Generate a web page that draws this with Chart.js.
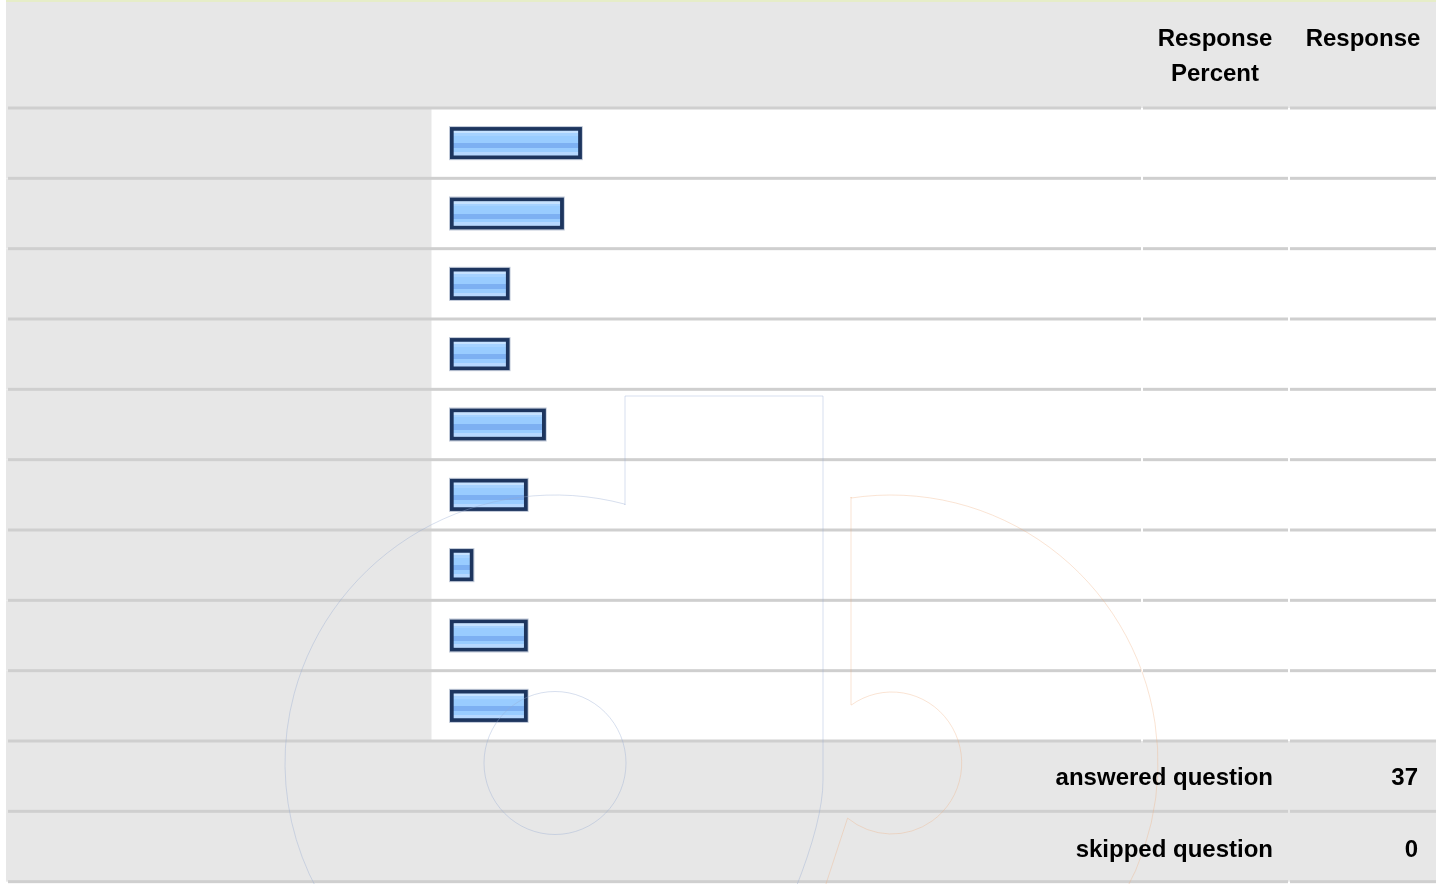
<!DOCTYPE html>
<html>
<head>
<meta charset="utf-8">
<script src="https://cdn.jsdelivr.net/npm/chart.js@4/dist/chart.umd.min.js"></script>
<style>
html,body{margin:0;padding:0;background:#fff;}
#wrap{position:relative;width:1444px;height:884px;overflow:hidden;font-family:"Liberation Sans",Arial,Helvetica,sans-serif;}
#c{position:absolute;left:0;top:0;}
.t{position:absolute;font-weight:bold;font-size:24px;line-height:35px;color:#000;white-space:nowrap;}
</style>
</head>
<body>
<div id="wrap">
<canvas id="c" width="1444" height="884"></canvas>
</div>
<script>
// ---- data ----
const categories = ['Option 1','Option 2','Option 3','Option 4','Option 5','Option 6','Option 7','Option 8','Option 9'];
const responsePercent = [18.9, 16.2, 8.1, 8.1, 13.5, 10.8, 2.7, 10.8, 10.8];
const headerLabels = ['Response Percent', 'Response'];
const summaryLabels = ['answered question', 'skipped question'];
const summaryValues = [37, 0];

// ---- text (real HTML text) ----
const wrap = document.getElementById('wrap');
function addText(html, style){
  const d = document.createElement('div');
  d.className = 't';
  d.innerHTML = html;
  Object.assign(d.style, style);
  wrap.appendChild(d);
}
addText(headerLabels[0].replace(' ', '<br>'), {left:'1142px', width:'146px', top:'20px', textAlign:'center'});
addText(headerLabels[1], {left:'1290px', width:'146px', top:'20px', textAlign:'center'});
const sumTops = [759, 831];
summaryLabels.forEach((s,i)=>{
  addText(s, {right:'171px', top: sumTops[i]+'px', textAlign:'right'});
  addText(String(summaryValues[i]), {right:'26px', top: sumTops[i]+'px', textAlign:'right'});
});

// ---- chart ----
const BASE = -0.8;
const L = 6, R = 1436, GAP1 = 1141, GAP2 = 1288, LABEL_R = 431.5;
const GRAY = '#e7e7e7', LINE = '#cfcfcf';

function hline(ctx, y, gaps){
  ctx.fillStyle = LINE;
  let x = 8;
  const segs = [];
  gaps.forEach(g=>{ segs.push([x, g]); x = g + 2; });
  segs.push([x, R]);
  segs.forEach(s=>ctx.fillRect(s[0], y - 1.5, s[1]-s[0], 3));
}

const tablePlugin = {
  id: 'table',
  beforeDraw(chart){
    const ctx = chart.ctx, ca = chart.chartArea;
    const n = categories.length;
    const rh = (ca.bottom - ca.top) / n;
    ctx.save();
    ctx.fillStyle = '#fff';
    ctx.fillRect(0,0,chart.width,chart.height);
    ctx.fillStyle = '#e6edc8';
    ctx.fillRect(L, 0, R-L, 2);
    ctx.fillStyle = GRAY;
    ctx.fillRect(L, 2, R-L, ca.top - 2);
    for(let i=0;i<n;i++){
      const y0 = ca.top + i*rh;
      ctx.fillStyle = GRAY;
      ctx.fillRect(L, y0, LABEL_R - L, rh);
    }
    ctx.fillStyle = GRAY;
    ctx.fillRect(L, ca.bottom, R-L, 2*rh);
    hline(ctx, ca.top, [GAP1, GAP2]);
    for(let i=1;i<=n;i++) hline(ctx, ca.top + i*rh, [GAP1, GAP2]);
    hline(ctx, ca.bottom + rh, [GAP2]);
    hline(ctx, ca.bottom + 2*rh, [GAP2]);
    ctx.restore();
  }
};

const outlinePlugin = {
  id: 'outline',
  afterDatasetsDraw(chart){
    const ctx = chart.ctx;
    const meta = chart.getDatasetMeta(0);
    ctx.save();
    ctx.strokeStyle = 'rgba(150,165,190,0.6)';
    ctx.lineWidth = 1;
    meta.data.forEach(el=>{
      const p = el.getProps(['x','y','base','height'], true);
      ctx.strokeRect(p.base - 0.5, p.y - p.height/2 - 0.5, p.x - p.base + 1, p.height + 1);
    });
    ctx.restore();
  }
};

const watermarkPlugin = {
  id: 'watermark',
  afterDraw(chart){
    const ctx = chart.ctx;
    ctx.save();
    ctx.lineWidth = 1;
    ctx.strokeStyle = 'rgba(150,170,210,0.38)';
    ctx.beginPath();
    ctx.moveTo(795, 890);
    ctx.quadraticCurveTo(823, 820, 823, 780);
    ctx.lineTo(823, 396);
    ctx.lineTo(625, 396);
    ctx.lineTo(625, 505);
    ctx.ellipse(555, 763, 270, 268, 0, -1.309, 2.3, true);
    ctx.stroke();
    ctx.beginPath();
    ctx.ellipse(555, 763, 71, 71.5, 0, 0, Math.PI*2);
    ctx.stroke();
    ctx.strokeStyle = 'rgba(240,170,120,0.32)';
    ctx.beginPath();
    ctx.moveTo(851, 705);
    ctx.lineTo(851, 497);
    ctx.ellipse(891, 763, 267, 268, 0, -1.721, 0.6, false);
    ctx.stroke();
    ctx.beginPath();
    ctx.ellipse(891.7, 763, 70, 71, 0, -2.19, 2.253, false);
    ctx.lineTo(824, 890);
    ctx.stroke();
    ctx.restore();
  }
};

function barFill(c){
  const chart = c.chart;
  if (!chart.chartArea || c.dataIndex === undefined || !chart.scales.y) return '#99ccff';
  const y = chart.scales.y.getPixelForValue(c.dataIndex);
  const top = y - 12, bot = y + 12;
  const g = chart.ctx.createLinearGradient(0, top, 0, bot);
  g.addColorStop(0.00, '#c6e2ff');
  g.addColorStop(0.09, '#c6e2ff');
  g.addColorStop(0.09, '#a6d2ff');
  g.addColorStop(0.20, '#a6d2ff');
  g.addColorStop(0.20, '#99ccff');
  g.addColorStop(0.50, '#99ccff');
  g.addColorStop(0.50, '#7db0f2');
  g.addColorStop(0.71, '#7db0f2');
  g.addColorStop(0.71, '#99ccff');
  g.addColorStop(0.87, '#99ccff');
  g.addColorStop(0.87, '#b6d8ff');
  g.addColorStop(1.00, '#b6d8ff');
  return g;
}

new Chart(document.getElementById('c'), {
  type: 'bar',
  data: {
    labels: categories,
    datasets: [{
      data: responsePercent,
      base: BASE,
      backgroundColor: barFill,
      borderColor: '#1d355e',
      borderWidth: 4,
      borderSkipped: false,
      barThickness: 32
    }]
  },
  options: {
    indexAxis: 'y',
    responsive: false,
    animation: false,
    devicePixelRatio: 1,
    layout: { padding: { left: 450, right: 319.6, top: 108, bottom: 143 } },
    scales: {
      x: { type: 'linear', min: BASE, max: 100, display: false, grid: {display:false} },
      y: { type: 'category', display: false, grid: {display:false} }
    },
    plugins: { legend: {display:false}, tooltip: {enabled:false} }
  },
  plugins: [tablePlugin, outlinePlugin, watermarkPlugin]
});
</script>
</body>
</html>
